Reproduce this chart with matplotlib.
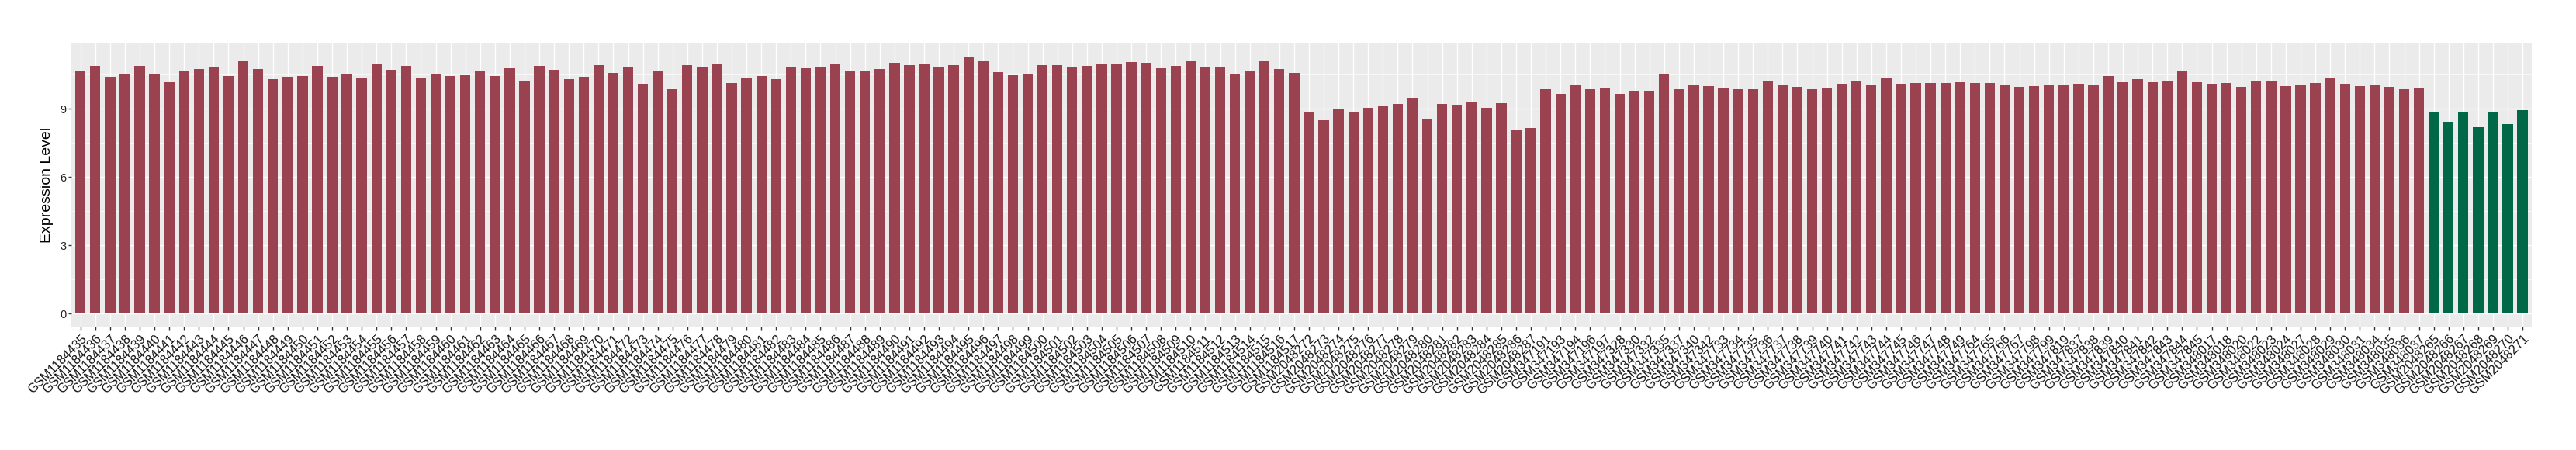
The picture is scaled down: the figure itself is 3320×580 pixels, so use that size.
import matplotlib
matplotlib.use("Agg")
import matplotlib.pyplot as plt
from matplotlib.ticker import FixedLocator

# sample ids, in plotting order
ids_1184 = list(range(1184435, 1184518))
ids_2048_a = list(range(2048272, 2048288))
ids_347 = [347191, 347193, 347194, 347196, 347197,
           347328, 347330, 347332, 347335, 347337, 347340, 347342,
           347733, 347734, 347735, 347736, 347737, 347738, 347739, 347740,
           347741, 347742, 347743, 347744, 347745, 347746, 347747, 347748, 347749,
           347764, 347765, 347766, 347767, 347798, 347799, 347819,
           347837, 347838, 347839, 347840, 347841, 347842, 347843, 347844, 347845]
ids_348 = [348017, 348018, 348020, 348022, 348023, 348024, 348027, 348028,
           348029, 348030, 348031, 348034, 348035, 348036, 348037]
ids_2048_b = [2048265, 2048266, 2048267, 2048268, 2048269, 2048270, 2048271]

samples = [f"GSM{n}" for n in ids_1184 + ids_2048_a + ids_347 + ids_348 + ids_2048_b]

expr_1184 = [10.69, 10.89, 10.42, 10.55, 10.89, 10.53, 10.16, 10.69, 10.75, 10.82,
             10.46, 11.08, 10.75, 10.29, 10.42, 10.46, 10.89, 10.42, 10.55, 10.39,
             10.98, 10.72, 10.89, 10.36, 10.53, 10.46, 10.49, 10.65, 10.46, 10.79,
             10.22, 10.89, 10.72, 10.32, 10.42, 10.91, 10.58, 10.86, 10.09, 10.65,
             9.87, 10.91, 10.82, 10.98, 10.13, 10.39, 10.46, 10.29, 10.86, 10.79,
             10.86, 10.98, 10.69, 10.69, 10.75, 11.02, 10.91, 10.95, 10.82, 10.91,
             11.31, 11.08, 10.62, 10.49, 10.55, 10.91, 10.91, 10.82, 10.89, 10.98,
             10.95, 11.05, 11.02, 10.79, 10.89, 11.08, 10.86, 10.82, 10.55, 10.65,
             11.12, 10.75, 10.58]
expr_2048_a = [8.83, 8.50, 8.97, 8.86, 9.03, 9.14, 9.23, 9.50, 8.57, 9.23,
               9.17, 9.30, 9.03, 9.26, 8.08, 8.17]
expr_347 = [9.87, 9.66, 10.06, 9.87, 9.89, 9.66, 9.80, 9.80, 10.55, 9.87,
            10.03, 9.99, 9.89, 9.87, 9.87, 10.22, 10.06, 9.96, 9.87, 9.92,
            10.09, 10.20, 10.03, 10.36, 10.09, 10.13, 10.13, 10.13, 10.16, 10.13,
            10.13, 10.06, 9.96, 9.99, 10.06, 10.06, 10.09, 10.03, 10.46, 10.16,
            10.29, 10.16, 10.22, 10.69, 10.16]
expr_348 = [10.09, 10.13, 9.96, 10.25, 10.20, 9.99, 10.06, 10.13, 10.36, 10.09,
            9.99, 10.03, 9.96, 9.87, 9.92]
expr_2048_b = [8.83, 8.44, 8.86, 8.20, 8.83, 8.34, 8.93]

expression = expr_1184 + expr_2048_a + expr_347 + expr_348 + expr_2048_b
groups = ["other"] * (len(expression) - len(expr_2048_b)) + ["target"] * len(expr_2048_b)
group_colors = {"other": "#9A4250", "target": "#006847"}

plt.rcParams["font.family"] = ["Liberation Sans", "DejaVu Sans"]

fig = plt.figure(figsize=(33.2, 5.8), dpi=100)
ax = fig.add_axes([0.0278, 0.2747, 0.9549, 0.6287])
ax.set_facecolor("#EBEBEB")

x = list(range(len(samples)))
ax.bar(x, expression, width=0.7, color=[group_colors[g] for g in groups], zorder=3)

top = max(expression)
ax.set_ylim(-0.05 * top, 1.05 * top)
ax.set_xlim(-0.6, len(samples) - 0.4)

ax.yaxis.set_major_locator(FixedLocator([0, 3, 6, 9]))
ax.yaxis.set_minor_locator(FixedLocator([1.5, 4.5, 7.5, 10.5]))
ax.set_xticks(x)
ax.set_xticklabels(samples, rotation=45, ha="right", va="top", rotation_mode="anchor",
                   fontsize=11.8, color="#111111")
ax.tick_params(axis="y", which="major", labelsize=10.5, labelcolor="#222222",
               length=3, width=1, color="#333333", pad=2)
ax.tick_params(axis="y", which="minor", length=0)
ax.tick_params(axis="x", length=3, width=1, color="#333333", pad=3)

ax.grid(True, which="major", color="white", linewidth=1.0, zorder=0)
ax.grid(True, which="minor", axis="y", color="white", linewidth=0.5, zorder=0)
ax.set_axisbelow(True)
for s in ax.spines.values():
    s.set_visible(False)

ax.set_ylabel("Expression Level", fontsize=14, color="black", labelpad=6)

fig.savefig("out.png", dpi=100)
